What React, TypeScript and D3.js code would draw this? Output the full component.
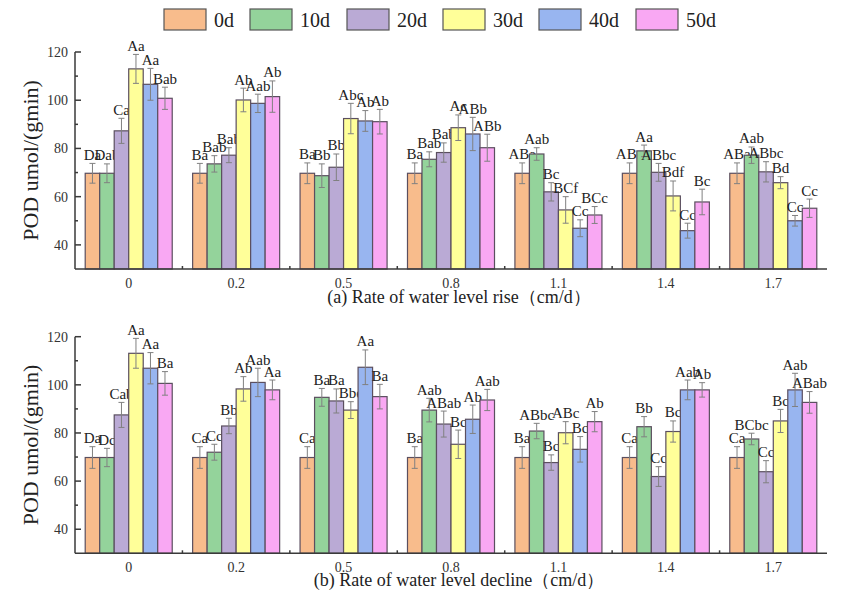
import React from "react";
import * as d3 from "d3";

const categories = ["0", "0.2", "0.5", "0.8", "1.1", "1.4", "1.7"];
const seriesNames = ["0d", "10d", "20d", "30d", "40d", "50d"];
const seriesColors = ["#F8BC8C", "#94D39B", "#BAAAD5", "#FFFF99", "#98B5F0", "#F9A8F3"];
const yTicks = [40, 60, 80, 100, 120];
const yMinorTicks = [50, 70, 90, 110];

const riseValues = [
  [69.7, 69.7, 87.3, 113, 106.6, 100.8],
  [69.7, 73.6, 77.2, 100.1, 98.7, 101.5],
  [69.7, 68.7, 72.2, 92.4, 91.4, 91.1],
  [69.7, 75.5, 78.3, 88.6, 86, 80.3],
  [69.7, 77.7, 62, 54.5, 46.9, 52.4],
  [69.7, 79, 70.1, 60.3, 45.9, 57.8],
  [69.7, 77.2, 70.3, 65.8, 50, 55.2],
];
const riseErrors = [
  [4.1, 3.9, 5.2, 6, 6.6, 4.6],
  [4.1, 3.4, 3.1, 4.9, 3.8, 6.5],
  [4.3, 4.9, 5.5, 6.3, 4.3, 5.1],
  [4.3, 3.1, 4, 5.3, 6.9, 5.6],
  [4.3, 2.6, 3.8, 5.5, 3.5, 3.5],
  [4.3, 2.4, 3.7, 6.2, 3.1, 5.3],
  [4.3, 3.4, 4.2, 2.5, 2.2, 3.8],
];
const riseLabels = [
  ["Da", "Dab", "Ca", "Aa", "Aa", "Bab"],
  ["Ba", "Bab", "Bab", "Ab", "Aab", "Ab"],
  ["Ba", "Bb", "Bb", "Abc", "Ab", "Ab"],
  ["Ba", "Bab", "Bab", "Ac", "ABb", "ABb"],
  ["ABa", "Aab", "Bc", "BCf", "Cc", "BCc"],
  ["ABa", "Aa", "ABbc", "Bdf", "Cc", "Bc"],
  ["ABa", "Aab", "ABbc", "Bd", "Cc", "Cc"],
];

const declineValues = [
  [69.8, 69.8, 87.5, 113.1, 106.9, 100.6],
  [69.8, 72, 82.9, 98.3, 101, 97.9],
  [69.8, 94.8, 93.3, 89.5, 107.3, 95.1],
  [69.8, 89.5, 83.7, 75.3, 85.7, 93.7],
  [69.8, 80.8, 67.7, 80.1, 73.2, 84.7],
  [69.8, 82.6, 61.9, 80.6, 97.9, 97.9],
  [69.8, 77.5, 63.9, 85, 97.9, 92.7],
];
const declineErrors = [
  [4.5, 3.8, 5.2, 6.2, 6.5, 4.9],
  [4.5, 3.3, 3.2, 5.1, 5.9, 4.1],
  [4.5, 3.7, 5, 3.5, 7.2, 5.1],
  [4.5, 4.9, 5.4, 5.9, 5.9, 4.4],
  [4.5, 3.2, 3.2, 4.6, 5.3, 4.2],
  [4.5, 4.2, 4.1, 4.4, 4.1, 3],
  [4.5, 2.4, 4.6, 4.8, 6.9, 4.5],
];
const declineLabels = [
  ["Da", "Dc", "Cab", "Aa", "Aa", "Ba"],
  ["Ca", "Cc", "Bb", "Ab", "Aab", "Aa"],
  ["Ca", "Ba", "Ba", "Bbe", "Aa", "Ba"],
  ["Ba", "Aab", "ABab", "Bc", "Ab", "Aab"],
  ["Ba", "ABbc", "Bc", "ABc", "Bc", "Ab"],
  ["Ca", "Bb", "Cc", "Bc", "Aab", "Ab"],
  ["Ca", "BCbc", "Cc", "Bc", "Aab", "ABab"],
];

const FONT = "'Liberation Serif', 'Times New Roman', serif";
const AXIS = "#3a3a3a";
const LEFT = 75;
const RIGHT = 827;

type PanelProps = {
  top: number;
  bottom: number;
  values: number[][];
  errors: number[][];
  labels: string[][];
  subtitle: string;
  subtitleY: number;
  tickLabelY: number;
};

function Panel({ top, bottom, values, errors, labels, subtitle, subtitleY, tickLabelY }: PanelProps) {
  const x = d3.scaleBand<string>().domain(categories).range([LEFT, RIGHT]).paddingInner(0).paddingOuter(0);
  const groupW = x.bandwidth() * 0.81;
  const xs = d3.scaleBand<string>().domain(seriesNames).range([0, groupW]).padding(0);
  const y = d3.scaleLinear().domain([30, 120]).range([bottom, top]);
  const bw = xs.bandwidth();
  return (
    <g>
      {categories.map((c, ci) => {
        const gx = (x(c) as number) + (x.bandwidth() - groupW) / 2;
        return (
          <g key={c}>
            {seriesNames.map((s, si) => {
              const v = values[ci][si];
              const e = errors[ci][si];
              const bx = gx + (xs(s) as number);
              const cx = bx + bw / 2;
              return (
                <g key={s}>
                  <rect
                    x={bx}
                    y={y(v)}
                    width={bw}
                    height={y(30) - y(v)}
                    fill={seriesColors[si]}
                    stroke="#5b4f5f"
                    strokeWidth={1.2}
                  />
                  <line x1={cx} x2={cx} y1={y(v + e)} y2={y(v - e)} stroke="#808080" strokeWidth={1} />
                  <line x1={cx - 3} x2={cx + 3} y1={y(v + e)} y2={y(v + e)} stroke="#808080" strokeWidth={1} />
                  <line x1={cx - 3} x2={cx + 3} y1={y(v - e)} y2={y(v - e)} stroke="#808080" strokeWidth={1} />
                  <text
                    x={cx}
                    y={y(v + e) - 3.5}
                    textAnchor="middle"
                    fontFamily={FONT}
                    fontSize={15}
                    fill="#222"
                  >
                    {labels[ci][si]}
                  </text>
                </g>
              );
            })}
          </g>
        );
      })}
      <line x1={LEFT} x2={LEFT} y1={y(120)} y2={y(30)} stroke={AXIS} strokeWidth={1.5} />
      <line x1={LEFT} x2={RIGHT} y1={y(30)} y2={y(30)} stroke={AXIS} strokeWidth={1.5} />
      {yTicks.map((t) => (
        <g key={t}>
          <line x1={LEFT} x2={LEFT + 6} y1={y(t)} y2={y(t)} stroke={AXIS} strokeWidth={1.5} />
          <text x={68} y={y(t) + 5} textAnchor="end" fontFamily={FONT} fontSize={14} fill="#333">
            {t}
          </text>
        </g>
      ))}
      {yMinorTicks.map((t) => (
        <line key={t} x1={LEFT} x2={LEFT + 3} y1={y(t)} y2={y(t)} stroke={AXIS} strokeWidth={1.5} />
      ))}
      {categories.slice(1).map((c) => (
        <line key={c} x1={x(c) as number} x2={x(c) as number} y1={y(30)} y2={y(30) - 3} stroke={AXIS} strokeWidth={1.5} />
      ))}
      {categories.map((c) => (
        <text
          key={c}
          x={(x(c) as number) + x.bandwidth() / 2}
          y={tickLabelY}
          textAnchor="middle"
          fontFamily={FONT}
          fontSize={14}
          fill="#333"
        >
          {c}
        </text>
      ))}
      <text
        transform={`translate(38,${(top + bottom) / 2}) rotate(-90)`}
        textAnchor="middle"
        fontFamily={FONT}
        fontSize={22}
        fill="#222"
      >
        POD umol/(gmin)
      </text>
      <text x={459} y={subtitleY} textAnchor="middle" fontFamily={FONT} fontSize={18} fill="#222">
        {subtitle}
      </text>
    </g>
  );
}

export default function App() {
  const legendX = [164, 250, 347, 443, 539, 636];
  return (
    <svg
      width={850}
      height={598}
      style={{ position: "absolute", left: 0, top: 0, background: "#fff" }}
    >
      <rect width={850} height={598} fill="#fff" />
      {seriesNames.map((s, i) => (
        <g key={s}>
          <rect x={legendX[i]} y={9} width={42} height={21} fill={seriesColors[i]} stroke="#555" strokeWidth={1.2} />
          <text x={legendX[i] + 50} y={27} fontFamily={FONT} fontSize={20} fill="#222">
            {s}
          </text>
        </g>
      ))}
      <Panel
        top={52}
        bottom={269}
        values={riseValues}
        errors={riseErrors}
        labels={riseLabels}
        subtitle="(a) Rate of water level rise（cm/d）"
        subtitleY={303}
        tickLabelY={288}
      />
      <Panel
        top={336.7}
        bottom={553.3}
        values={declineValues}
        errors={declineErrors}
        labels={declineLabels}
        subtitle="(b) Rate of water level decline（cm/d）"
        subtitleY={586}
        tickLabelY={572}
      />
    </svg>
  );
}
